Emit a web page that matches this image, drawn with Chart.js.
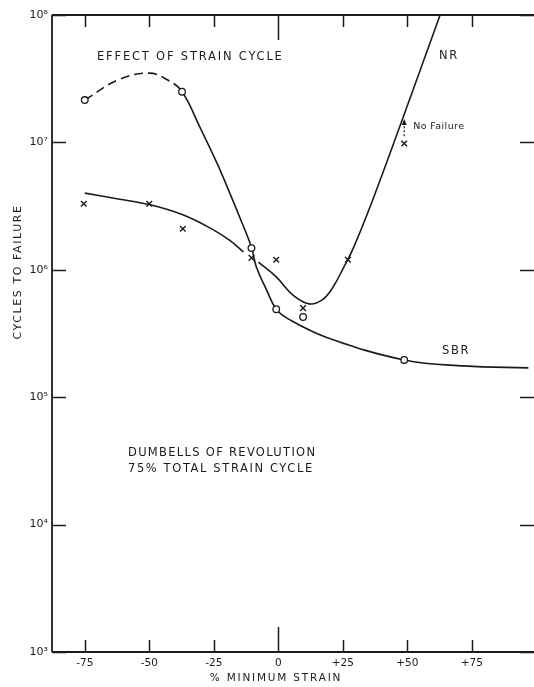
<!DOCTYPE html>
<html><head><meta charset="utf-8">
<script src="https://cdn.jsdelivr.net/npm/chart.js@4.4.1/dist/chart.umd.min.js"></script>
<style>html,body{margin:0;padding:0;background:#fff;}canvas{display:block}</style>
</head><body>
<canvas id="c" width="534" height="687"></canvas>
<script>
// ---- data ----
const xTicks = [-75, -50, -25, 0, 25, 50, 75];
const xTickLabels = ['-75', '-50', '-25', '0', '+25', '+50', '+75'];
const yTicks = [1e3, 1e4, 1e5, 1e6, 1e7, 1e8];
const yTickLabels = ['10³', '10⁴', '10⁵', '10⁶', '10⁷', '10⁸'];

// NR curve (null = break in the drawn line)
const nrCurveX = [-75, -62, -50, -37, -25, -18.8, -13.5, -10.5, -7.7, -0.8, 5.8, 12, 17, 21, 25.4, 29.2, 36.5, 48, 62.7];
const nrCurveY = [4.0e6, 3.6e6, 3.25e6, 2.7e6, 2.05e6, 1.7e6, 1.38e6, null, 1.15e6, 8.8e5, 6.3e5, 5.4e5, 5.8e5, 7.2e5, 1.05e6, 1.5e6, 3.5e6, 1.5e7, 1.0e8];

// SBR curve (first five points joined by a dashed line)
const sbrCurveX = [-75, -62, -50, -43, -37.3, -30.4, -23.8, -18.8, -15, -10.4, -8.5, -4.6, -0.8, 4, 18.5, 48.8, 72, 97];
const sbrCurveY = [2.15e7, 3.1e7, 3.5e7, 3.1e7, 2.5e7, 1.32e7, 6.9e6, 4.0e6, 2.6e6, 1.5e6, 1.05e6, 7.0e5, 4.9e5, 4.1e5, 2.96e5, 1.96e5, 1.76e5, 1.7e5];
const sbrDashedUntil = 4;

// measured points
const circleX = [-75, -37.3, -10.4, -0.8, 9.6, 48.8];
const circleY = [2.15e7, 2.5e7, 1.48e6, 4.9e5, 4.26e5, 1.96e5];
const crossX = [-75.4, -50, -37, -10.4, -0.8, 9.6, 27, 48.8];
const crossY = [3.3e6, 3.3e6, 2.1e6, 1.24e6, 1.2e6, 5.0e5, 1.2e6, 9.8e6];

// "No Failure" arrow
const noFailureX = 48.8;
const noFailureFrom = 1.12e7;
const noFailureTo = 1.5e7;

const xMin = -87.7, xMax = 97;
const ink = '#1b1b1b';

function pts(xs, ys) { return xs.map((x, i) => ({ x: x, y: ys[i] })); }

Chart.defaults.font.family = '"DejaVu Sans", sans-serif';
Chart.defaults.color = ink;

const framePlugin = {
  id: 'frame',
  afterDraw(chart) {
    const ctx = chart.ctx, a = chart.chartArea;
    const xs = chart.scales.x, ys = chart.scales.y;
    const W = chart.width;
    ctx.save();
    ctx.strokeStyle = ink;
    ctx.lineWidth = 1.8;
    ctx.beginPath();
    ctx.moveTo(a.left, a.top); ctx.lineTo(W, a.top);
    ctx.moveTo(a.left, a.top); ctx.lineTo(a.left, a.bottom);
    ctx.moveTo(a.left, a.bottom); ctx.lineTo(W, a.bottom);
    ctx.stroke();
    ctx.lineWidth = 1.5;
    ctx.beginPath();
    xTicks.forEach(v => {
      const px = Math.round(xs.getPixelForValue(v)) + 0.5;
      const len = v === 0 ? 25 : 12;
      ctx.moveTo(px, a.bottom); ctx.lineTo(px, a.bottom - len);
      ctx.moveTo(px, a.top); ctx.lineTo(px, a.top + len);
    });
    yTicks.forEach(v => {
      const py = Math.round(ys.getPixelForValue(v)) + 0.5;
      ctx.moveTo(a.left, py); ctx.lineTo(a.left + 14, py);
      ctx.moveTo(W, py); ctx.lineTo(W - 14, py);
    });
    ctx.stroke();

    // No Failure arrow
    const ax = xs.getPixelForValue(noFailureX);
    const y0 = ys.getPixelForValue(noFailureFrom), y1 = ys.getPixelForValue(noFailureTo);
    ctx.lineWidth = 1.2;
    ctx.setLineDash([2, 2]);
    ctx.beginPath(); ctx.moveTo(ax, y0); ctx.lineTo(ax, y1 + 3); ctx.stroke();
    ctx.setLineDash([]);
    ctx.fillStyle = ink;
    ctx.beginPath(); ctx.moveTo(ax, y1 - 1); ctx.lineTo(ax - 2.5, y1 + 5); ctx.lineTo(ax + 2.5, y1 + 5); ctx.closePath(); ctx.fill();

    // texts
    ctx.fillStyle = ink;
    ctx.textBaseline = 'middle';
    ctx.textAlign = 'left';
    ctx.letterSpacing = '1.8px';
    ctx.font = '11.5px "DejaVu Sans", sans-serif';
    ctx.fillText('EFFECT OF STRAIN CYCLE', 97, 57);
    ctx.letterSpacing = '1.3px';
    ctx.fillText('DUMBELLS OF REVOLUTION', 128, 453);
    ctx.letterSpacing = '1.6px';
    ctx.fillText('75% TOTAL STRAIN CYCLE', 128, 469);
    ctx.fillText('NR', 439, 56);
    ctx.fillText('SBR', 442, 351);
    ctx.letterSpacing = '0.4px';
    ctx.font = '9.5px "DejaVu Sans", sans-serif';
    ctx.fillText('No Failure', ax + 9, y1 + 7);
    ctx.letterSpacing = '1.8px';
    ctx.font = '10.5px "DejaVu Sans", sans-serif';
    ctx.textAlign = 'center';
    ctx.fillText('% MINIMUM STRAIN', 276, 678);
    ctx.save();
    ctx.translate(18, 272);
    ctx.rotate(-Math.PI / 2);
    ctx.letterSpacing = '1.6px';
    ctx.font = '11px "DejaVu Sans", sans-serif';
    ctx.fillText('CYCLES TO FAILURE', 0, 0);
    ctx.restore();
    ctx.restore();
  }
};

new Chart(document.getElementById('c'), {
  type: 'line',
  data: {
    datasets: [
      { label: 'circles', type: 'scatter', data: pts(circleX, circleY), showLine: false,
        pointStyle: 'circle', pointRadius: 3.3, pointBorderWidth: 1.3,
        pointBackgroundColor: '#fff', pointBorderColor: ink, order: 0 },
      { label: 'crosses', type: 'scatter', data: pts(crossX, crossY), showLine: false,
        pointStyle: 'crossRot', pointRadius: 4, pointBorderWidth: 1.4,
        pointBorderColor: ink, order: 0 },
      { label: 'NR', data: pts(nrCurveX, nrCurveY), borderColor: ink, borderWidth: 1.6,
        pointRadius: 0, tension: 0.4, spanGaps: false, fill: false, order: 1 },
      { label: 'SBR', data: pts(sbrCurveX, sbrCurveY), borderColor: ink, borderWidth: 1.6,
        pointRadius: 0, tension: 0.4, fill: false, order: 1,
        segment: { borderDash: c => (c.p1DataIndex <= sbrDashedUntil ? [9, 5] : undefined) } }
    ]
  },
  options: {
    responsive: false,
    animation: false,
    layout: { padding: { top: 15, right: 0, left: 0, bottom: 0 } },
    plugins: { legend: { display: false }, tooltip: { enabled: false } },
    scales: {
      x: {
        type: 'linear', min: xMin, max: xMax,
        grid: { display: false, drawTicks: false },
        border: { display: false },
        afterBuildTicks: s => { s.ticks = xTicks.map(v => ({ value: v })); },
        afterFit: s => { s.height = 35; },
        ticks: { padding: 5, font: { size: 10.5 }, maxRotation: 0, autoSkip: false,
          callback: (v, i) => xTickLabels[i] }
      },
      y: {
        type: 'logarithmic', min: 1e3, max: 1e8,
        grid: { display: false, drawTicks: false },
        border: { display: false },
        afterBuildTicks: s => { s.ticks = yTicks.map(v => ({ value: v })); },
        afterFit: s => { s.width = 52; },
        ticks: { padding: 4, font: { size: 11 }, autoSkip: false,
          callback: (v, i) => yTickLabels[i] }
      }
    }
  },
  plugins: [framePlugin]
});
</script>
</body></html>
